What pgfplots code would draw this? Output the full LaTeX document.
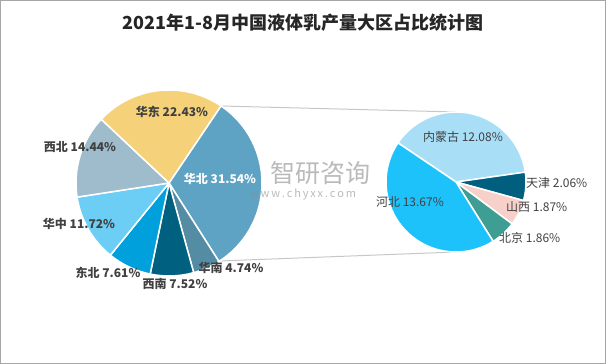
\documentclass[border=0pt]{standalone}
\usepackage{fontspec}
\setmainfont{Noto Sans CJK SC}
\usepackage{pgfplots}
\pgfplotsset{compat=1.18}
\definecolor{cHB}{RGB}{95,163,196}
\definecolor{cHN}{RGB}{84,140,163}
\definecolor{cXN}{RGB}{0,96,128}
\definecolor{cDB}{RGB}{0,160,220}
\definecolor{cHZ}{RGB}{108,205,245}
\definecolor{cXB}{RGB}{158,188,203}
\definecolor{cHD}{RGB}{245,210,122}
\definecolor{cNMG}{RGB}{168,223,247}
\definecolor{cTJ}{RGB}{0,95,127}
\definecolor{cSX}{RGB}{248,208,202}
\definecolor{cBJ}{RGB}{62,158,148}
\definecolor{cHeB}{RGB}{30,194,251}
\definecolor{txt}{RGB}{64,64,64}
\begin{document}
\begin{tikzpicture}
\begin{axis}[
  scale only axis, width=606bp, height=364bp,
  xmin=0, xmax=606, ymin=0, ymax=364,
  hide axis, clip=false]
% connector lines
\draw[black!22, line width=1bp] (axis cs:221,258) -- (axis cs:456,252);
\draw[black!22, line width=1bp] (axis cs:219,103) -- (axis cs:456,112);
% left pie: percentages of total
\gdef\cum{56}
\foreach \v/\c in {31.54/cHB, 4.74/cHN, 7.52/cXN, 7.61/cDB, 11.72/cHZ, 14.44/cXB, 22.43/cHD} {
  \pgfmathsetmacro\e{\cum-3.6*\v}
  \edef\tmp{\noexpand\fill[\c, draw=white, line width=1.5bp, line join=round] (axis cs:169,181) -- ++(\cum:93bp) arc[start angle=\cum, end angle=\e, radius=93bp] -- cycle;}
  \tmp
  \xdef\cum{\e}
}
% right pie: breakdown of 华北 (31.54)
\gdef\cum{146}
\foreach \v/\c in {12.08/cNMG, 2.06/cTJ, 1.87/cSX, 1.86/cBJ, 13.67/cHeB} {
  \pgfmathsetmacro\e{\cum-360*\v/31.54}
  \edef\tmp{\noexpand\fill[\c, draw=white, line width=1.5bp, line join=round] (axis cs:456,182) -- ++(\cum:70bp) arc[start angle=\cum, end angle=\e, radius=70bp] -- cycle;}
  \tmp
  \xdef\cum{\e}
}
% watermark
\node[text=black!45, opacity=0.6, font=\fontsize{25bp}{28bp}\selectfont] at (axis cs:320,191) {智研咨询};
\node[text=black!45, opacity=0.6, font=\fontsize{11bp}{12bp}\selectfont] at (axis cs:303,170) {w\,w\,w\,.\,c\,h\,y\,x\,x\,.\,c\,o\,m};
% title
\node[font=\fontsize{18bp}{20bp}\selectfont\bfseries, text=black!85] at (axis cs:303,341) {2021年1-8月中国液体乳产量大区占比统计图};
% left labels
\begin{scope}[every node/.style={font=\fontsize{12bp}{14bp}\selectfont\bfseries, text=txt}]
\node at (axis cs:172,252) {华东 22.43\%};
\node at (axis cs:80,217) {西北 14.44\%};
\node at (axis cs:79,140) {华中 11.72\%};
\node at (axis cs:108,91) {东北 7.61\%};
\node at (axis cs:175,80) {西南 7.52\%};
\node at (axis cs:231,96) {华南 4.74\%};
\node[text=white] at (axis cs:220,185) {华北 31.54\%};
\end{scope}
\begin{scope}[every node/.style={font=\fontsize{12bp}{14bp}\selectfont, text=txt}]
\node at (axis cs:463,227) {内蒙古 12.08\%};
\node[anchor=west, inner sep=0pt] at (axis cs:526,181) {天津 2.06\%};
\node[anchor=west, inner sep=0pt] at (axis cs:506,157) {山西 1.87\%};
\node[anchor=west, inner sep=0pt] at (axis cs:499,126) {北京 1.86\%};
\node at (axis cs:410,162) {河北 13.67\%};
\end{scope}
% frame
\draw[black!35, line width=1bp] (axis cs:0.5,0.5) rectangle (axis cs:605.5,363.5);
\end{axis}
\end{tikzpicture}
\end{document}
